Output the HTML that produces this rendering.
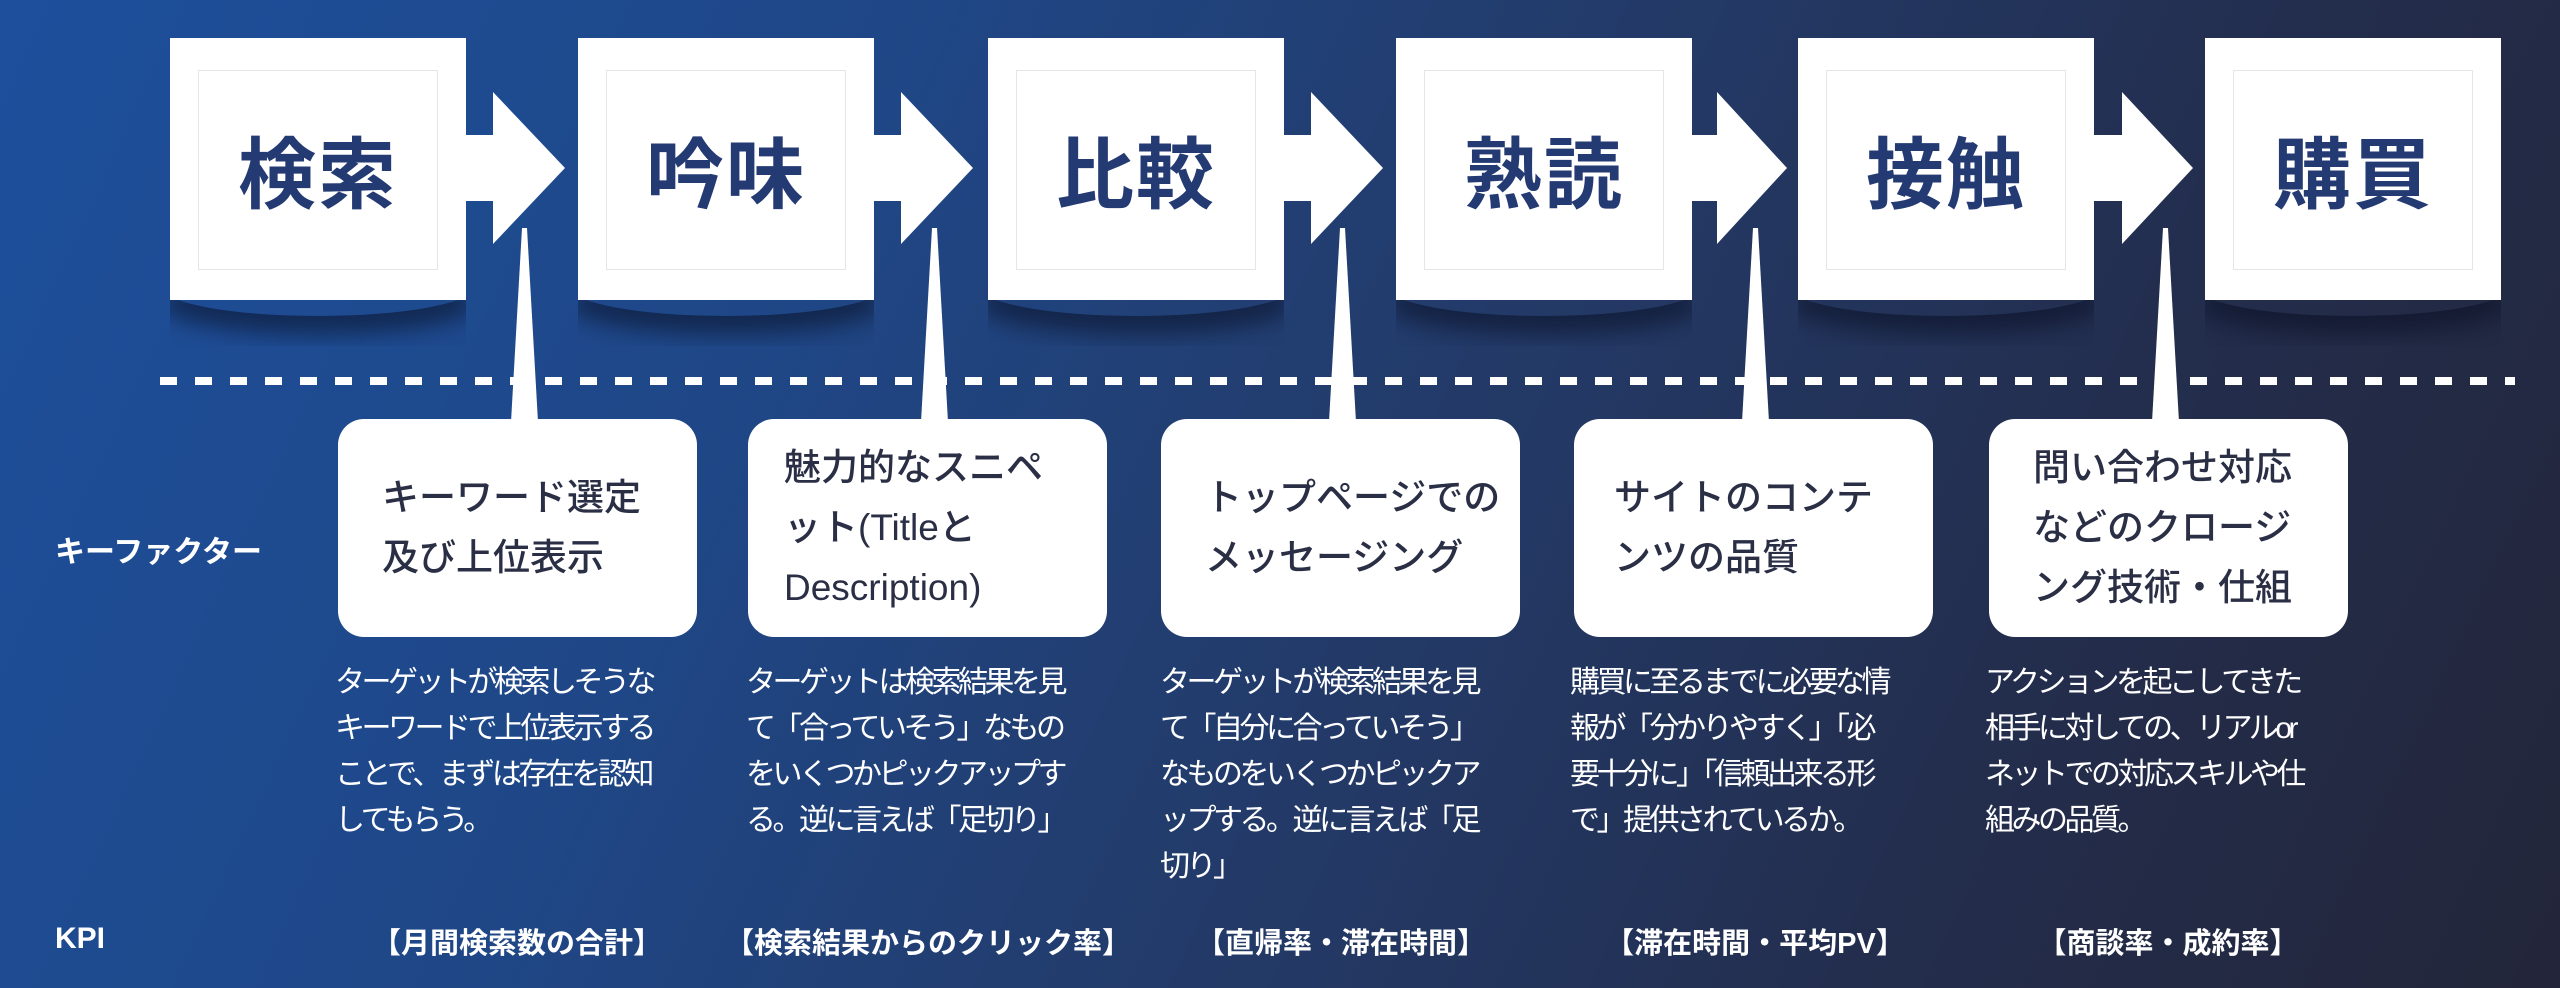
<!DOCTYPE html>
<html><head><meta charset="utf-8"><style>
html,body{margin:0;padding:0}
body{width:2560px;height:988px;overflow:hidden;position:relative;
background:linear-gradient(115deg,#1d4f9c 0%,#1f4787 30%,#233a68 55%,#232c4a 80%,#23263a 100%);
font-family:"Liberation Sans","Noto Sans CJK JP",sans-serif;}
.box{position:absolute;top:38px;width:296px;height:262px;background:#fff;}
.box .in{position:absolute;left:28px;top:32px;right:28px;bottom:30px;border:1px solid #e6e6e6;}
.box .t{position:absolute;left:0;right:0;top:0;bottom:0;display:flex;align-items:center;justify-content:center;font-size:78px;font-weight:bold;color:#243a73;letter-spacing:2px;}
.sh{position:absolute;top:296px;width:296px;height:50px;overflow:hidden}
.sh:after{content:"";position:absolute;left:-10px;right:-10px;top:-40px;height:60px;border-radius:50%;box-shadow:0 18px 22px rgba(10,15,35,.55)}
.co{position:absolute;top:419px;width:359px;height:218px;background:#fff;border-radius:26px;display:flex;align-items:center;box-sizing:border-box;padding-left:44px;font-size:37px;line-height:60px;color:#2a2f45;font-weight:500}
.ds{position:absolute;top:660px;font-size:30px;line-height:46px;color:#fff;white-space:nowrap;letter-spacing:-3.5px}
.kp{position:absolute;top:920px;font-size:29px;font-weight:bold;color:#fff;white-space:nowrap;text-align:center;width:420px}
.lb{position:absolute;left:55px;font-size:30px;font-weight:bold;color:#fff}
</style></head><body>
<div class="sh" style="left:170px"></div><div class="sh" style="left:578px"></div><div class="sh" style="left:988px"></div><div class="sh" style="left:1396px"></div><div class="sh" style="left:1798px"></div><div class="sh" style="left:2205px"></div>
<svg width="2560" height="988" style="position:absolute;left:0;top:0">
<line x1="160" y1="381" x2="2515" y2="381" stroke="#fff" stroke-width="8" stroke-dasharray="17 18"/>
<g fill="#fff">
<polygon points="466,135 493,135 493,92 565,168 493,244 493,201 466,201"/>
<polygon points="874,135 901,135 901,92 973,168 901,244 901,201 874,201"/>
<polygon points="1284,135 1311,135 1311,92 1383,168 1311,244 1311,201 1284,201"/>
<polygon points="1692,135 1717,135 1717,92 1787,168 1717,244 1717,201 1692,201"/>
<polygon points="2094,135 2122,135 2122,92 2193,168 2122,244 2122,201 2094,201"/>
<polygon points="522,228 527,228 538,422 511,422"/>
<polygon points="932,228 937,228 948,422 921,422"/>
<polygon points="1340,228 1345,228 1356,422 1329,422"/>
<polygon points="1753,228 1758,228 1769,422 1742,422"/>
<polygon points="2163,228 2168,228 2179,422 2152,422"/>
</g></svg>
<div class="box" style="left:170px"><div class="in"></div><div class="t">検索</div></div>
<div class="box" style="left:578px"><div class="in"></div><div class="t">吟味</div></div>
<div class="box" style="left:988px"><div class="in"></div><div class="t">比較</div></div>
<div class="box" style="left:1396px"><div class="in"></div><div class="t">熟読</div></div>
<div class="box" style="left:1798px"><div class="in"></div><div class="t">接触</div></div>
<div class="box" style="left:2205px"><div class="in"></div><div class="t">購買</div></div>
<div class="lb" style="top:527px">キーファクター</div>
<div class="lb" style="top:922px">KPI</div>
<div class="co" style="left:338px"><div>キーワード選定<br>及び上位表示</div></div>
<div class="co" style="left:748px;padding-left:36px"><div>魅力的なスニペ<br>ット(Titleと<br>Description)</div></div>
<div class="co" style="left:1161px"><div>トップページでの<br>メッセージング</div></div>
<div class="co" style="left:1574px;padding-left:40px"><div>サイトのコンテ<br>ンツの品質</div></div>
<div class="co" style="left:1989px;padding-left:44px"><div>問い合わせ対応<br>などのクロージ<br>ング技術・仕組</div></div>
<div class="ds" style="left:335px">ターゲットが検索しそうな<br>キーワードで上位表示する<br>ことで、まずは存在を認知<br>してもらう。</div>
<div class="ds" style="left:746px">ターゲットは検索結果を見<br>て「合っていそう」なもの<br>をいくつかピックアップす<br>る。逆に言えば「足切り」</div>
<div class="ds" style="left:1160px">ターゲットが検索結果を見<br>て「自分に合っていそう」<br>なものをいくつかピックア<br>ップする。逆に言えば「足<br>切り」</div>
<div class="ds" style="left:1570px">購買に至るまでに必要な情<br>報が「分かりやすく」「必<br>要十分に」「信頼出来る形<br>で」提供されているか。</div>
<div class="ds" style="left:1985px">アクションを起こしてきた<br>相手に対しての、リアルor<br>ネットでの対応スキルや仕<br>組みの品質。</div>
<div class="kp" style="left:307px">【月間検索数の合計】</div>
<div class="kp" style="left:718px">【検索結果からのクリック率】</div>
<div class="kp" style="left:1131px">【直帰率・滞在時間】</div>
<div class="kp" style="left:1545px">【滞在時間・平均PV】</div>
<div class="kp" style="left:1958px">【商談率・成約率】</div>
</body></html>
